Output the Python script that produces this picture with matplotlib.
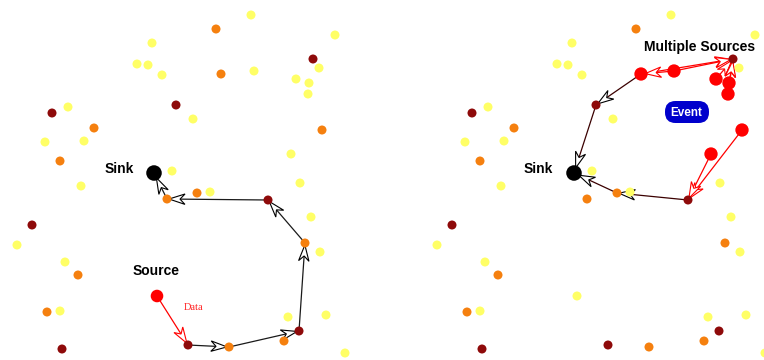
import numpy as np
import matplotlib
matplotlib.use("Agg")
import matplotlib.pyplot as plt
from matplotlib.patches import Polygon, FancyBboxPatch

# ---- data: node layout (shared by both panels, panel-local pixel frame) ----
node_x = [251, 216, 335, 152, 313, 319, 137, 148, 162, 221,
          254, 296, 309, 308, 176, 193, 52, 68, 94, 45,
          84, 322, 60, 291, 154, 172, 300, 81, 167, 197,
          210, 268, 311, 305, 320, 32, 17, 65, 78, 157,
          47, 60, 288, 326, 188, 229, 284, 299, 62, 345]
node_y = [15, 29, 35, 43, 59, 68, 64, 65, 75, 74,
          71, 79, 83, 94, 105, 119, 113, 107, 128, 142,
          141, 130, 161, 154, 173, 171, 183, 186, 199, 193,
          192, 200, 217, 243, 252, 225, 245, 262, 275, 296,
          312, 311, 317, 315, 345, 347, 341, 331, 349, 353]
# roles: Y=yellow, O=orange, D=dark red, R=source (red), S=single source, K=sink
left_role = list("YOYYDYYYYO" "YYYYDYDYOY" "YOOYKYYYOO" "YDYOYDYYOS" "OYYYDOODDY")
right_role = list("YOYYDYYYYR" "RRRRDYDYOY" "YRORKYYYOO" "YDYOYDYYOY" "OYYYDOODDY")

left_red_edges = [(39, 44)]
left_dark_edges = [(44, 45), (45, 47), (47, 33), (33, 31), (31, 28), (28, 24)]
right_red_edges = [(10, 9), (9, 4), (10, 4), (11, 4), (12, 4), (13, 4), (21, 31), (23, 31)]
right_dark_edges = [(9, 14), (14, 24), (31, 29), (29, 24)]

role_color = {"Y": "#ffff66", "O": "#f5800f", "D": "#8e0a0a", "R": "#ff0000",
              "S": "#ff0000", "K": "#000000"}
role_size = {"Y": 42, "O": 42, "D": 42, "R": 92, "S": 82, "K": 125}
role_rad = {"Y": 4.5, "O": 4.5, "D": 4.5, "R": 6.7, "S": 6.3, "K": 7.8}

W, H = 764, 360
fig = plt.figure(figsize=(W / 100, H / 100), dpi=100)
ax_l = fig.add_axes([0, 0, 0.5, 1])
ax_r = fig.add_axes([0.5, 0, 0.5, 1])
ax_l.set_xlim(0, 382)
ax_r.set_xlim(-38, 344)
for ax in (ax_l, ax_r):
    ax.set_ylim(360, 0)
    ax.axis("off")


def draw_nodes(ax, roles):
    xs = np.array(node_x)
    ys = np.array(node_y)
    for r in ["Y", "O", "D", "R", "S", "K"]:
        idx = [i for i, rr in enumerate(roles) if rr == r]
        if idx:
            ax.scatter(xs[idx], ys[idx], s=role_size[r], c=role_color[r],
                       edgecolors="none", zorder=5)


def draw_arrow(ax, a, b, roles, head_color, line_color):
    x0, y0 = node_x[a], node_y[a]
    x1, y1 = node_x[b], node_y[b]
    dx, dy = x1 - x0, y1 - y0
    L = np.hypot(dx, dy)
    ux, uy = dx / L, dy / L
    nx, ny = -uy, ux
    off = max(role_rad[roles[b]] - 2.5, 1.5)
    tx, ty = x1 - ux * off, y1 - uy * off
    ax.plot([x0, tx], [y0, ty], color=line_color, lw=0.9, zorder=3,
            solid_capstyle="butt")
    hl, hw, notch = 16, 5.2, 11
    bx, by = tx - ux * hl, ty - uy * hl
    pts = [(tx, ty), (bx + nx * hw, by + ny * hw),
           (tx - ux * notch, ty - uy * notch), (bx - nx * hw, by - ny * hw)]
    ax.add_patch(Polygon(pts, closed=True, fc="white", ec=head_color,
                         lw=0.8, zorder=4, joinstyle="miter"))


draw_nodes(ax_l, left_role)
draw_nodes(ax_r, right_role)

for a, b in left_red_edges:
    draw_arrow(ax_l, a, b, left_role, "#ff0000", "#ff0000")
for a, b in left_dark_edges:
    draw_arrow(ax_l, a, b, left_role, "#000000", "#1a1a1a")
for a, b in right_red_edges:
    draw_arrow(ax_r, a, b, right_role, "#ff0000", "#ff0000")
for a, b in right_dark_edges:
    draw_arrow(ax_r, a, b, right_role, "#000000", "#3a0000")

lab_font = dict(family=["Liberation Sans", "DejaVu Sans"], weight="bold",
                fontsize=10, color="black", ha="center", va="center")
ax_l.text(119, 169, "Sink", **lab_font)
ax_l.text(156, 271, "Source", **lab_font)
ax_l.text(194, 307, "Data", family=["Liberation Serif", "DejaVu Serif"],
          fontsize=7.5, color="#ff2020", ha="center", va="center")
ax_r.text(118, 169, "Sink", **lab_font)
ax_r.text(279.5, 47, "Multiple Sources", **lab_font)

ax_r.add_patch(FancyBboxPatch((245, 101), 44, 22,
                              boxstyle="round,pad=0,rounding_size=10.5",
                              fc="#0000cc", ec="none", zorder=6))
ax_r.text(266, 112.5, "Event", family=["Liberation Sans", "DejaVu Sans"],
          weight="bold", fontsize=8.5, color="white", ha="center",
          va="center", zorder=7)

fig.savefig("out.png", dpi=100)
